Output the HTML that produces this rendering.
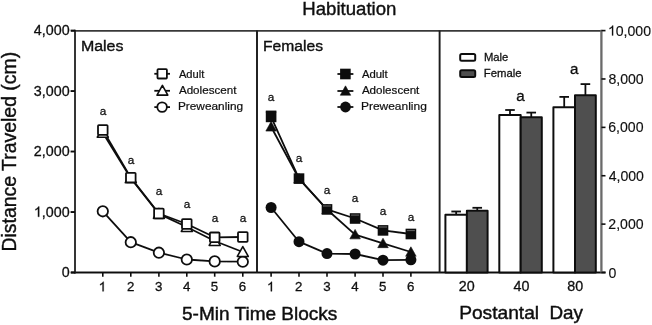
<!DOCTYPE html>
<html><head><meta charset="utf-8"><style>
html,body{margin:0;padding:0;background:#fff;}
body{width:652px;height:325px;overflow:hidden;}
svg{display:block;}
text{font-family:"Liberation Sans",sans-serif;fill:#111;stroke:#111;stroke-width:0.3px;}
</style></head><body>
<svg width="652" height="325" viewBox="0 0 652 325">
<defs><filter id="bl" filterUnits="userSpaceOnUse" x="0" y="0" width="652" height="325"><feGaussianBlur stdDeviation="0.35"/></filter></defs>
<rect width="652" height="325" fill="#fff"/>
<g filter="url(#bl)">
<line x1="71" y1="30.8" x2="601.5" y2="30.8" stroke="#383838" stroke-width="1.8"/>
<line x1="71" y1="272.5" x2="605.5" y2="272.5" stroke="#111" stroke-width="1.9"/>
<line x1="75" y1="29.8" x2="75" y2="273.4" stroke="#1a1a1a" stroke-width="1.75"/>
<line x1="257.0" y1="30.6" x2="257.0" y2="272.5" stroke="#1a1a1a" stroke-width="1.9"/>
<line x1="439.6" y1="30.6" x2="439.6" y2="272.5" stroke="#1a1a1a" stroke-width="1.9"/>
<line x1="601.4" y1="29.8" x2="601.4" y2="272.5" stroke="#6a6a6a" stroke-width="2.3"/>
<line x1="70.6" y1="272.50" x2="75" y2="272.50" stroke="#111" stroke-width="1.9"/>
<text font-size="14.30" transform="translate(61.71,277.30) scale(1.0000,1.0000)">0</text>
<line x1="70.6" y1="212.03" x2="75" y2="212.03" stroke="#111" stroke-width="1.9"/>
<text font-size="14.30" transform="translate(33.87,216.83) scale(1.0000,1.0000)"><tspan style="fill:none;stroke:none">1</tspan>,000</text>
<polygon points="39.21,216.83 39.21,206.59 38.39,206.59 38.02,207.32 37.23,208.03 36.30,208.65 35.43,209.06 35.43,210.30 36.16,210.02 37.02,209.53 37.95,208.87 37.95,216.83" fill="#111" stroke="#111" stroke-width="0.3" stroke-linejoin="round"/>
<line x1="70.6" y1="151.55" x2="75" y2="151.55" stroke="#111" stroke-width="1.9"/>
<text font-size="14.30" transform="translate(33.87,156.35) scale(1.0000,1.0000)">2,000</text>
<line x1="70.6" y1="91.07" x2="75" y2="91.07" stroke="#111" stroke-width="1.9"/>
<text font-size="14.30" transform="translate(33.87,95.87) scale(1.0000,1.0000)">3,000</text>
<line x1="70.6" y1="30.60" x2="75" y2="30.60" stroke="#111" stroke-width="1.9"/>
<text font-size="14.30" transform="translate(33.87,35.40) scale(1.0000,1.0000)">4,000</text>
<line x1="601.4" y1="272.50" x2="605.5" y2="272.50" stroke="#111" stroke-width="1.6"/>
<text font-size="14.10" transform="translate(608.45,277.50) scale(1.0000,1.0000)" style="stroke-width:0.15px">0</text>
<line x1="601.4" y1="224.12" x2="605.5" y2="224.12" stroke="#111" stroke-width="1.6"/>
<text font-size="14.10" transform="translate(608.29,229.12) scale(1.0000,1.0000)" style="stroke-width:0.15px">2,000</text>
<line x1="601.4" y1="175.74" x2="605.5" y2="175.74" stroke="#111" stroke-width="1.6"/>
<text font-size="14.10" transform="translate(608.68,180.74) scale(1.0000,1.0000)" style="stroke-width:0.15px">4,000</text>
<line x1="601.4" y1="127.36" x2="605.5" y2="127.36" stroke="#111" stroke-width="1.6"/>
<text font-size="14.10" transform="translate(608.28,132.36) scale(1.0000,1.0000)" style="stroke-width:0.15px">6,000</text>
<line x1="601.4" y1="78.98" x2="605.5" y2="78.98" stroke="#111" stroke-width="1.6"/>
<text font-size="14.10" transform="translate(608.39,83.98) scale(1.0000,1.0000)" style="stroke-width:0.15px">8,000</text>
<line x1="601.4" y1="30.60" x2="605.5" y2="30.60" stroke="#111" stroke-width="1.6"/>
<text font-size="14.10" transform="translate(607.93,35.60) scale(1.0000,1.0000)" style="stroke-width:0.15px"><tspan style="fill:none;stroke:none">1</tspan>0,000</text>
<polygon points="613.19,35.60 613.19,25.50 612.38,25.50 612.01,26.22 611.24,26.93 610.32,27.53 609.46,27.94 609.46,29.17 610.18,28.89 611.03,28.41 611.94,27.76 611.94,35.60" fill="#111" stroke="#111" stroke-width="0.15" stroke-linejoin="round"/>
<line x1="102.80" y1="272.5" x2="102.80" y2="276.70" stroke="#111" stroke-width="1.6"/>
<text font-size="13.30" transform="translate(98.72,291.30) scale(1.0000,1.0000)"><tspan style="fill:none;stroke:none">1</tspan></text>
<polygon points="103.68,291.30 103.68,281.78 102.92,281.78 102.58,282.46 101.85,283.12 100.98,283.69 100.17,284.08 100.17,285.24 100.85,284.97 101.65,284.52 102.51,283.91 102.51,291.30" fill="#111" stroke="#111" stroke-width="0.3" stroke-linejoin="round"/>
<line x1="130.80" y1="272.5" x2="130.80" y2="276.70" stroke="#111" stroke-width="1.6"/>
<text font-size="13.30" transform="translate(126.90,291.30) scale(1.0000,1.0000)">2</text>
<line x1="158.90" y1="272.5" x2="158.90" y2="276.70" stroke="#111" stroke-width="1.6"/>
<text font-size="13.30" transform="translate(155.04,291.30) scale(1.0000,1.0000)">3</text>
<line x1="186.80" y1="272.5" x2="186.80" y2="276.70" stroke="#111" stroke-width="1.6"/>
<text font-size="13.30" transform="translate(182.94,291.30) scale(1.0000,1.0000)">4</text>
<line x1="214.70" y1="272.5" x2="214.70" y2="276.70" stroke="#111" stroke-width="1.6"/>
<text font-size="13.30" transform="translate(210.81,291.30) scale(1.0000,1.0000)">5</text>
<line x1="242.80" y1="272.5" x2="242.80" y2="276.70" stroke="#111" stroke-width="1.6"/>
<text font-size="13.30" transform="translate(238.86,291.30) scale(1.0000,1.0000)">6</text>
<line x1="271.10" y1="272.5" x2="271.10" y2="276.70" stroke="#111" stroke-width="1.6"/>
<text font-size="13.30" transform="translate(267.02,291.30) scale(1.0000,1.0000)"><tspan style="fill:none;stroke:none">1</tspan></text>
<polygon points="271.98,291.30 271.98,281.78 271.22,281.78 270.88,282.46 270.15,283.12 269.28,283.69 268.47,284.08 268.47,285.24 269.15,284.97 269.95,284.52 270.81,283.91 270.81,291.30" fill="#111" stroke="#111" stroke-width="0.3" stroke-linejoin="round"/>
<line x1="299.00" y1="272.5" x2="299.00" y2="276.70" stroke="#111" stroke-width="1.6"/>
<text font-size="13.30" transform="translate(295.10,291.30) scale(1.0000,1.0000)">2</text>
<line x1="327.00" y1="272.5" x2="327.00" y2="276.70" stroke="#111" stroke-width="1.6"/>
<text font-size="13.30" transform="translate(323.14,291.30) scale(1.0000,1.0000)">3</text>
<line x1="355.10" y1="272.5" x2="355.10" y2="276.70" stroke="#111" stroke-width="1.6"/>
<text font-size="13.30" transform="translate(351.24,291.30) scale(1.0000,1.0000)">4</text>
<line x1="383.00" y1="272.5" x2="383.00" y2="276.70" stroke="#111" stroke-width="1.6"/>
<text font-size="13.30" transform="translate(379.11,291.30) scale(1.0000,1.0000)">5</text>
<line x1="410.90" y1="272.5" x2="410.90" y2="276.70" stroke="#111" stroke-width="1.6"/>
<text font-size="13.30" transform="translate(406.96,291.30) scale(1.0000,1.0000)">6</text>
<text font-size="18.61" transform="translate(302.27,15.10) scale(1.0000,1.0000)" style="stroke-width:0.4px">Habituation</text>
<text font-size="15.97" transform="translate(80.89,51.10) scale(1.0000,0.9300)" style="stroke-width:0.4px">Males</text>
<text font-size="15.66" transform="translate(263.02,51.20) scale(1.0000,0.9300)" style="stroke-width:0.4px">Females</text>
<text font-size="19.43" transform="translate(15.8,251.49) rotate(-90)" style="stroke-width:0.4px">Distance Traveled (cm)</text>
<text font-size="19.02" transform="translate(182.04,320.20) scale(1.0000,1.0000)" style="stroke-width:0.45px">5-Min Time Blocks</text>
<text font-size="19.18" transform="translate(459.13,319.30) scale(1.0000,1.0000)" style="stroke-width:0.45px">Postantal</text>
<text font-size="18.83" transform="translate(549.46,319.30) scale(1.0000,1.0000)" style="stroke-width:0.45px">Day</text>
<line x1="154.3" y1="73.8" x2="170.0" y2="73.8" stroke="#111" stroke-width="1.8"/>
<rect x="157.50" y="69.10" width="9.40" height="9.40" fill="#fff" stroke="#111" stroke-width="1.8" rx="0.8"/>
<text font-size="11.15" transform="translate(178.88,77.50) scale(1.0000,0.9700)" style="stroke-width:0.22px">Adult</text>
<line x1="154.3" y1="90.8" x2="170.0" y2="90.8" stroke="#111" stroke-width="1.8"/>
<polygon points="162.40,85.45 167.80,95.17 157.00,95.17" fill="#fff" stroke="#111" stroke-width="1.6" stroke-linejoin="round"/>
<text font-size="11.66" transform="translate(178.88,94.10) scale(1.0000,0.9700)" style="stroke-width:0.22px">Adolescent</text>
<line x1="154.3" y1="107.1" x2="170.0" y2="107.1" stroke="#111" stroke-width="1.8"/>
<circle cx="162.10" cy="107.10" r="4.80" fill="#fff" stroke="#111" stroke-width="1.8"/>
<text font-size="11.84" transform="translate(177.93,109.80) scale(1.0000,0.9700)" style="stroke-width:0.22px">Preweanling</text>
<polyline points="102.8,211.3 130.8,242.2 158.9,252.7 186.8,259.5 214.7,261.4 242.8,261.7" fill="none" stroke="#111" stroke-width="1.8" stroke-linejoin="round"/>
<polyline points="102.8,132.8 130.8,178.2 158.9,213.9 186.8,227.0 214.7,241.0 242.8,252.0" fill="none" stroke="#111" stroke-width="1.8" stroke-linejoin="round"/>
<polyline points="102.8,130.0 130.8,177.6 158.9,213.5 186.8,224.0 214.7,237.3 242.8,237.0" fill="none" stroke="#111" stroke-width="1.8" stroke-linejoin="round"/>
<circle cx="102.80" cy="211.30" r="5.20" fill="#fff" stroke="#111" stroke-width="1.8"/>
<circle cx="130.80" cy="242.20" r="5.20" fill="#fff" stroke="#111" stroke-width="1.8"/>
<circle cx="158.90" cy="252.70" r="5.20" fill="#fff" stroke="#111" stroke-width="1.8"/>
<circle cx="186.80" cy="259.50" r="5.20" fill="#fff" stroke="#111" stroke-width="1.8"/>
<circle cx="214.70" cy="261.40" r="5.20" fill="#fff" stroke="#111" stroke-width="1.8"/>
<circle cx="242.80" cy="261.70" r="5.20" fill="#fff" stroke="#111" stroke-width="1.8"/>
<polygon points="102.80,127.36 108.30,137.26 97.30,137.26" fill="#fff" stroke="#111" stroke-width="1.6" stroke-linejoin="round"/>
<polygon points="130.80,172.75 136.30,182.66 125.30,182.66" fill="#fff" stroke="#111" stroke-width="1.6" stroke-linejoin="round"/>
<polygon points="158.90,208.46 164.40,218.36 153.40,218.36" fill="#fff" stroke="#111" stroke-width="1.6" stroke-linejoin="round"/>
<polygon points="186.80,221.56 192.30,231.46 181.30,231.46" fill="#fff" stroke="#111" stroke-width="1.6" stroke-linejoin="round"/>
<polygon points="214.70,235.56 220.20,245.46 209.20,245.46" fill="#fff" stroke="#111" stroke-width="1.6" stroke-linejoin="round"/>
<polygon points="242.80,246.56 248.30,256.45 237.30,256.45" fill="#fff" stroke="#111" stroke-width="1.6" stroke-linejoin="round"/>
<rect x="98.00" y="125.20" width="9.60" height="9.60" fill="#fff" stroke="#111" stroke-width="1.8" rx="0.8"/>
<rect x="126.00" y="172.80" width="9.60" height="9.60" fill="#fff" stroke="#111" stroke-width="1.8" rx="0.8"/>
<rect x="154.10" y="208.70" width="9.60" height="9.60" fill="#fff" stroke="#111" stroke-width="1.8" rx="0.8"/>
<rect x="182.00" y="219.20" width="9.60" height="9.60" fill="#fff" stroke="#111" stroke-width="1.8" rx="0.8"/>
<rect x="209.90" y="232.50" width="9.60" height="9.60" fill="#fff" stroke="#111" stroke-width="1.8" rx="0.8"/>
<rect x="238.00" y="232.20" width="9.60" height="9.60" fill="#fff" stroke="#111" stroke-width="1.8" rx="0.8"/>
<text font-size="11.80" transform="translate(99.77,115.20) scale(1.0000,1.0000)">a</text>
<text font-size="11.80" transform="translate(127.77,163.60) scale(1.0000,1.0000)">a</text>
<text font-size="11.80" transform="translate(155.87,194.70) scale(1.0000,1.0000)">a</text>
<text font-size="11.80" transform="translate(183.77,207.80) scale(1.0000,1.0000)">a</text>
<text font-size="11.80" transform="translate(211.67,222.40) scale(1.0000,1.0000)">a</text>
<text font-size="11.80" transform="translate(239.77,222.40) scale(1.0000,1.0000)">a</text>
<line x1="337.4" y1="74.0" x2="353.4" y2="74.0" stroke="#111" stroke-width="1.8"/>
<rect x="340.10" y="68.70" width="10.60" height="10.60" fill="#111"/>
<text font-size="11.32" transform="translate(361.88,77.80) scale(1.0000,0.9700)" style="stroke-width:0.22px">Adult</text>
<line x1="337.4" y1="91.0" x2="353.4" y2="91.0" stroke="#111" stroke-width="1.8"/>
<polygon points="345.50,85.85 350.70,95.21 340.30,95.21" fill="#111" stroke="#111" stroke-width="0.6" stroke-linejoin="round"/>
<text font-size="11.62" transform="translate(361.88,93.70) scale(1.0000,0.9700)" style="stroke-width:0.22px">Adolescent</text>
<line x1="337.4" y1="107.0" x2="353.4" y2="107.0" stroke="#111" stroke-width="1.8"/>
<circle cx="345.50" cy="107.00" r="5.40" fill="#111"/>
<text font-size="11.98" transform="translate(360.92,109.90) scale(1.0000,0.9700)" style="stroke-width:0.22px">Preweanling</text>
<polyline points="271.1,207.5 299.0,241.7 327.0,253.6 355.1,254.0 383.0,260.2 410.9,259.8" fill="none" stroke="#111" stroke-width="1.8" stroke-linejoin="round"/>
<polyline points="271.1,126.8 299.0,178.7 327.0,209.5 355.1,234.6 383.0,243.4 410.9,252.0" fill="none" stroke="#111" stroke-width="1.8" stroke-linejoin="round"/>
<polyline points="271.1,116.9 299.0,178.6 327.0,209.4 355.1,218.5 383.0,230.4 410.9,234.0" fill="none" stroke="#111" stroke-width="1.8" stroke-linejoin="round"/>
<circle cx="271.10" cy="207.50" r="5.50" fill="#111"/>
<circle cx="299.00" cy="241.70" r="5.50" fill="#111"/>
<circle cx="327.00" cy="253.60" r="5.50" fill="#111"/>
<circle cx="355.10" cy="254.00" r="5.50" fill="#111"/>
<circle cx="383.00" cy="260.20" r="5.50" fill="#111"/>
<circle cx="410.90" cy="259.80" r="5.50" fill="#111"/>
<polygon points="271.10,121.60 276.35,131.05 265.85,131.05" fill="#111" stroke="#111" stroke-width="0.6" stroke-linejoin="round"/>
<polygon points="299.00,173.50 304.25,182.95 293.75,182.95" fill="#111" stroke="#111" stroke-width="0.6" stroke-linejoin="round"/>
<polygon points="327.00,204.30 332.25,213.75 321.75,213.75" fill="#111" stroke="#111" stroke-width="0.6" stroke-linejoin="round"/>
<polygon points="355.10,229.40 360.35,238.85 349.85,238.85" fill="#111" stroke="#111" stroke-width="0.6" stroke-linejoin="round"/>
<polygon points="383.00,238.20 388.25,247.65 377.75,247.65" fill="#111" stroke="#111" stroke-width="0.6" stroke-linejoin="round"/>
<polygon points="410.90,246.80 416.15,256.25 405.65,256.25" fill="#111" stroke="#111" stroke-width="0.6" stroke-linejoin="round"/>
<rect x="265.80" y="111.60" width="10.60" height="10.60" fill="#111"/>
<rect x="265.80" y="110.60" width="10.6" height="2" fill="#111"/>
<rect x="293.70" y="173.30" width="10.60" height="10.60" fill="#111"/>
<rect x="321.70" y="204.10" width="10.60" height="10.60" fill="#111"/>
<line x1="323.00" y1="206.00" x2="331.00" y2="206.00" stroke="#888" stroke-width="0.7"/>
<rect x="349.80" y="213.20" width="10.60" height="10.60" fill="#111"/>
<line x1="351.10" y1="215.10" x2="359.10" y2="215.10" stroke="#888" stroke-width="0.7"/>
<rect x="377.70" y="225.10" width="10.60" height="10.60" fill="#111"/>
<line x1="379.00" y1="227.00" x2="387.00" y2="227.00" stroke="#888" stroke-width="0.7"/>
<rect x="405.60" y="228.70" width="10.60" height="10.60" fill="#111"/>
<line x1="406.90" y1="230.60" x2="414.90" y2="230.60" stroke="#888" stroke-width="0.7"/>
<text font-size="11.80" transform="translate(267.87,101.10) scale(1.0000,1.0000)">a</text>
<text font-size="11.80" transform="translate(295.77,162.20) scale(1.0000,1.0000)">a</text>
<text font-size="11.80" transform="translate(323.77,194.00) scale(1.0000,1.0000)">a</text>
<text font-size="11.80" transform="translate(351.87,202.30) scale(1.0000,1.0000)">a</text>
<text font-size="11.80" transform="translate(379.77,215.40) scale(1.0000,1.0000)">a</text>
<text font-size="11.80" transform="translate(407.67,220.70) scale(1.0000,1.0000)">a</text>
<line x1="456.15" y1="211.50" x2="456.15" y2="214.70" stroke="#111" stroke-width="1.8"/>
<line x1="451.35" y1="211.50" x2="460.95" y2="211.50" stroke="#111" stroke-width="1.8"/>
<line x1="477.25" y1="207.80" x2="477.25" y2="210.80" stroke="#111" stroke-width="1.8"/>
<line x1="472.45" y1="207.80" x2="482.05" y2="207.80" stroke="#111" stroke-width="1.8"/>
<rect x="445.40" y="214.70" width="21.50" height="57.80" fill="#fff" stroke="#111" stroke-width="2" stroke-linejoin="round"/>
<rect x="466.90" y="210.80" width="20.70" height="61.70" fill="#505050" stroke="#111" stroke-width="2" stroke-linejoin="round"/>
<line x1="510.00" y1="110.00" x2="510.00" y2="114.90" stroke="#111" stroke-width="1.8"/>
<line x1="505.20" y1="110.00" x2="514.80" y2="110.00" stroke="#111" stroke-width="1.8"/>
<line x1="531.25" y1="112.60" x2="531.25" y2="117.20" stroke="#111" stroke-width="1.8"/>
<line x1="526.45" y1="112.60" x2="536.05" y2="112.60" stroke="#111" stroke-width="1.8"/>
<rect x="499.30" y="114.90" width="21.40" height="157.60" fill="#fff" stroke="#111" stroke-width="2" stroke-linejoin="round"/>
<rect x="520.70" y="117.20" width="21.10" height="155.30" fill="#505050" stroke="#111" stroke-width="2" stroke-linejoin="round"/>
<line x1="564.20" y1="96.90" x2="564.20" y2="107.20" stroke="#111" stroke-width="1.8"/>
<line x1="559.40" y1="96.90" x2="569.00" y2="96.90" stroke="#111" stroke-width="1.8"/>
<line x1="585.40" y1="84.10" x2="585.40" y2="95.30" stroke="#111" stroke-width="1.8"/>
<line x1="580.60" y1="84.10" x2="590.20" y2="84.10" stroke="#111" stroke-width="1.8"/>
<rect x="553.40" y="107.20" width="21.60" height="165.30" fill="#fff" stroke="#111" stroke-width="2" stroke-linejoin="round"/>
<rect x="575.00" y="95.30" width="20.80" height="177.20" fill="#505050" stroke="#111" stroke-width="2" stroke-linejoin="round"/>
<text font-size="15.20" transform="translate(516.25,100.60) scale(1.0000,1.0000)">a</text>
<text font-size="15.20" transform="translate(570.05,73.60) scale(1.0000,1.0000)">a</text>
<rect x="460.2" y="54.0" width="15.0" height="6.8" rx="1.5" fill="#fff" stroke="#111" stroke-width="2"/>
<rect x="460.2" y="70.3" width="15.0" height="6.8" rx="1.5" fill="#505050" stroke="#111" stroke-width="2"/>
<text font-size="11.27" transform="translate(483.88,60.80) scale(1.0000,1.0000)" style="stroke-width:0.3px">Male</text>
<text font-size="11.32" transform="translate(483.87,77.20) scale(1.0000,1.0000)" style="stroke-width:0.3px">Female</text>
<text font-size="14.30" transform="translate(458.87,291.30) scale(1.0000,1.0000)">20</text>
<text font-size="14.30" transform="translate(513.56,291.30) scale(1.0000,1.0000)">40</text>
<text font-size="14.30" transform="translate(567.22,291.30) scale(1.0000,1.0000)">80</text>
</g>
</svg>
</body></html>
